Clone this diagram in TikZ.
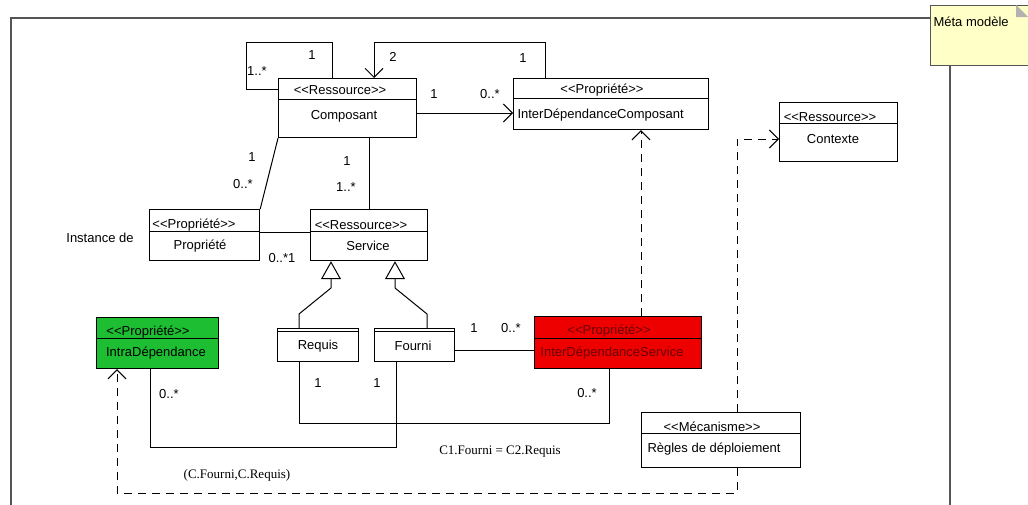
\documentclass[tikz,border=0pt]{standalone}
\usepackage{fontspec}
\setmainfont{Liberation Sans}
\newfontfamily\timesfont{Liberation Serif}
\usepackage{xcolor}
\usetikzlibrary{positioning, arrows.meta}

\definecolor{intragreen}{RGB}{30,190,50}
\definecolor{interred}{RGB}{238,0,0}
\definecolor{redtext}{RGB}{105,0,0}
\definecolor{noteyellow}{RGB}{255,255,200}
\definecolor{framegray}{RGB}{85,85,85}

\newcommand{\stereo}[1]{<\kern0pt<#1>\kern0pt>}

\tikzset{
  classbox/.style={draw, rectangle, inner sep=0pt, anchor=north west, line width=1.2pt},
  uml/.style={font=\fontsize{13}{15}\selectfont, inner sep=0pt},
  card/.style={font=\fontsize{13}{15}\selectfont, inner sep=0pt},
  nav/.style={-{Straight Barb[length=9pt, width=18pt, line width=1pt]}},
  gen/.style={-{Triangle[open, length=18pt, width=20pt, line width=1pt]}},
  dep/.style={dash pattern=on 8pt off 6pt},
}

\begin{document}
\begin{tikzpicture}[x=1pt, y=-1pt, line width=1pt]
\useasboundingbox (0,0) rectangle (1028,504);

% note and frame
\node[draw=framegray, fill=noteyellow, inner sep=0pt, anchor=north west,
      minimum width=98pt, minimum height=60pt] (note) at (930,5) {};
\fill[gray!60] (1016,5) -- (1016,17) -- (1028,17) -- cycle;
\node[uml, anchor=west] (notetxt) at (933,22) {Méta modèle};
\draw[framegray, line width=1.5pt] (note.west |- 0,18) -- (11,18) -- (11,510);
\draw[framegray, line width=1.5pt] (note.south -| 950,0) -- (950,510);

% classes
\node[classbox, minimum width=138pt, minimum height=59pt] (comp) at (278,78) {};
\draw (comp.west |- 0,99) -- (comp.east |- 0,99);
\node[uml] (compst) at (340,90) {\stereo{Ressource}};
\node[uml] (compnm) at (344,116) {Composant};

\node[classbox, minimum width=195pt, minimum height=51pt] (idc) at (513,78) {};
\draw (idc.west |- 0,98) -- (idc.east |- 0,98);
\node[uml] (idcst) at (602,90) {\stereo{Propriété}};
\node[uml, anchor=west] (idcnm) at (517,115) {InterDépendanceComposant};

\node[classbox, minimum width=118pt, minimum height=59pt] (ctx) at (779,102) {};
\draw (ctx.west |- 0,123) -- (ctx.east |- 0,123);
\node[uml] (ctxst) at (830,117) {\stereo{Ressource}};
\node[uml] (ctxnm) at (833,139) {Contexte};

\node[classbox, minimum width=110pt, minimum height=51pt] (prop) at (149,209) {};
\draw (prop.west |- 0,231) -- (prop.east |- 0,231);
\node[uml] (propst) at (194,225) {\stereo{Propriété}};
\node[uml] (propnm) at (200,246) {Propriété};
\node[uml] (inst) at (100,238) {Instance de};

\node[classbox, minimum width=117pt, minimum height=51pt] (svc) at (310,209) {};
\draw (svc.west |- 0,231) -- (svc.east |- 0,231);
\node[uml] (svcst) at (361,225) {\stereo{Ressource}};
\node[uml] (svcnm) at (368,246) {Service};

\node[classbox, minimum width=81pt, minimum height=33pt] (req) at (277,328) {};
\draw (req.west |- 0,331) -- (req.east |- 0,331);
\node[uml] (reqnm) at (318,346) {Requis};

\node[classbox, minimum width=80pt, minimum height=33pt] (four) at (374,328) {};
\draw (four.west |- 0,331) -- (four.east |- 0,331);
\node[uml] (fournm) at (413,346) {Fourni};

\node[classbox, fill=intragreen, minimum width=122pt, minimum height=51pt] (intra) at (96,317) {};
\draw (intra.west |- 0,338) -- (intra.east |- 0,338);
\node[uml] (intrast) at (148,332) {\stereo{Propriété}};
\node[uml] (intranm) at (156,353) {IntraDépendance};

\node[classbox, fill=interred, minimum width=167pt, minimum height=52pt] (ids) at (534,316) {};
\draw (ids.west |- 0,338) -- (ids.east |- 0,338);
\node[uml, text=redtext] (idsst) at (609,331) {\stereo{Propriété}};
\node[uml, text=redtext] (idsnm) at (612,353) {InterDépendanceService};

\node[classbox, minimum width=159pt, minimum height=55pt] (regl) at (641,412) {};
\draw (regl.west |- 0,433) -- (regl.east |- 0,433);
\node[uml] (reglst) at (712,427) {\stereo{Mécanisme}};
\node[uml] (reglnm) at (714,449) {Règles de déploiement};

% associations
\draw (comp.north -| 332,0) |- (246,42) |- (comp.west |- 0,89);
\node[card] (l1) at (312,55) {1};
\node[card] (l2) at (257,71) {1..*};

\draw[nav] (comp.east |- 0,113) -- (idc.west |- 0,113);
\node[card] (l3) at (434,94) {1};
\node[card] (l4) at (490,94) {0..*};

\draw[nav] (idc.north -| 545,0) |- (374,42) -- (comp.north -| 374,0);
\node[card] (l5) at (393,57) {2};
\node[card] (l6) at (523,58) {1};

\draw (comp.south west) -- (prop.north east);
\node[card] (l7) at (252,157) {1};
\node[card] (l8) at (243,184) {0..*};

\draw (comp.south -| svc.north) -- (svc.north);
\node[card] (l9) at (347,161) {1};
\node[card] (l10) at (346,187) {1..*};

\draw (prop.east |- 0,232) -- (svc.west |- 0,232);
\node[card] (l11) at (282,258) {0..*1};

\draw[gen] (req.north -| 299,0) -- (299,314) -- (331,288) -- (svc.south -| 331,0);
\draw[gen] (four.north -| 427,0) -- (427,314) -- (395,288) -- (svc.south -| 395,0);

\draw (four.east |- 0,350) -- (ids.west |- 0,350);
\node[card] (l12) at (474,328) {1};
\node[card] (l13) at (511,328) {0..*};

\draw (req.south -| 299,0) |- (609,423) -- (ids.south -| 609,0);
\node[card] (l14) at (318,383) {1};
\node[card] (l15) at (587,393) {0..*};

\draw (intra.south -| 150,0) |- (396,447) -- (four.south -| 396,0);
\node[card] (l16) at (169,394) {0..*};
\node[card] (l17) at (377,383) {1};

% dependencies
\draw[dep, nav] (ids.north -| 641,0) -- (idc.south -| 641,0);
\draw[dep, nav] (regl.north -| 737,0) |- (ctx.west |- 0,139);
\draw[dep, nav] (regl.south -| 737,0) |- (117,493) -- (intra.south -| 117,0);

% constraints
\node[font=\timesfont\fontsize{13}{15}\selectfont] (cons1) at (500,452) {C1.Fourni = C2.Requis};
\node[font=\timesfont\fontsize{13}{15}\selectfont] (cons2) at (237,475) {(C.Fourni,C.Requis)};
\end{tikzpicture}
\end{document}
